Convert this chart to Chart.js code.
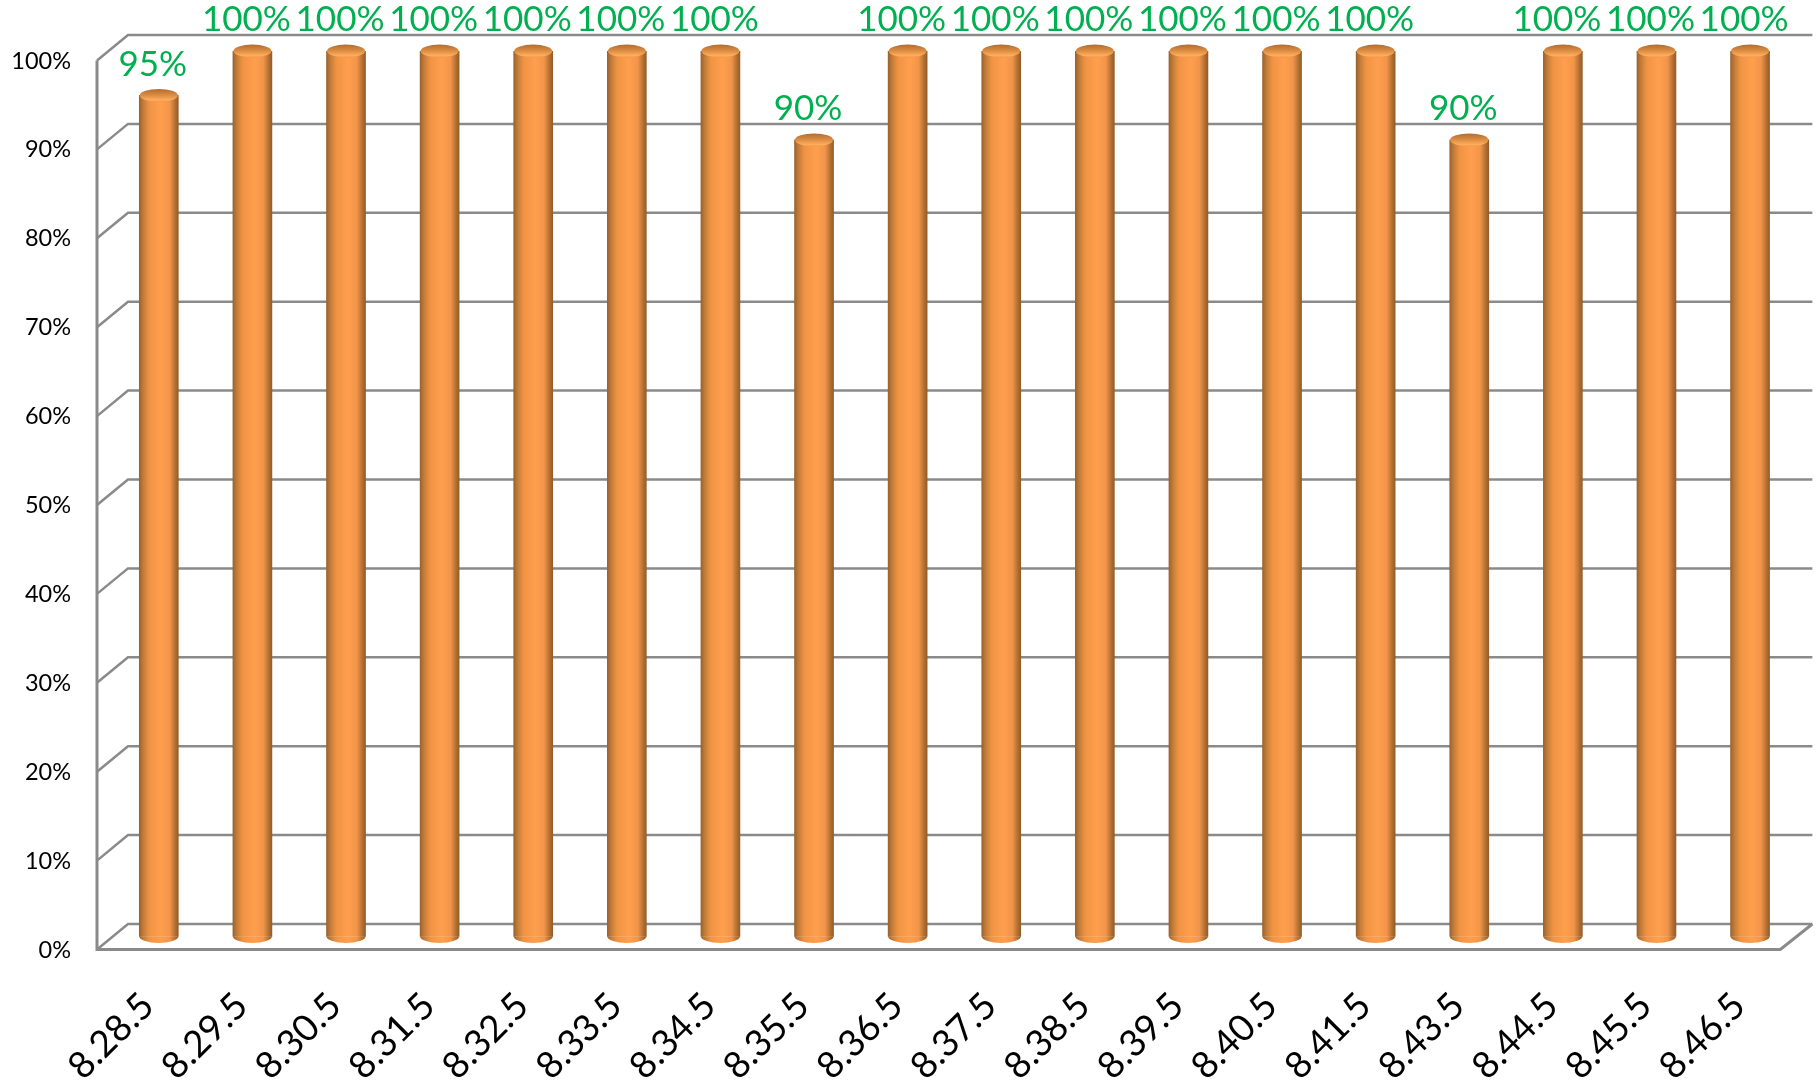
<!DOCTYPE html>
<html>
<head>
<meta charset="utf-8">
<style>
html,body{margin:0;padding:0;background:#fff;}
canvas{display:block;}
</style>
<script src="https://cdn.jsdelivr.net/npm/chart.js@4/dist/chart.umd.min.js"></script>
</head>
<body>
<canvas id="chart" width="1818" height="1080"></canvas>
<script>
const categories = ["8.28.5","8.29.5","8.30.5","8.31.5","8.32.5","8.33.5","8.34.5","8.35.5","8.36.5","8.37.5","8.38.5","8.39.5","8.40.5","8.41.5","8.43.5","8.44.5","8.45.5","8.46.5"];
const rates = [95,100,100,100,100,100,100,90,100,100,100,100,100,100,90,100,100,100];
const yTicks = [0,10,20,30,40,50,60,70,80,90,100];

// offsets of the fake 3d walls from the plane the bars stand on
const frontDy = 9.5, backDy = -16, frontDx = -15, backDx = 16;
const lineColor = "#8a8a8a";

function barFill(ctx, x, w){
  const g = ctx.createLinearGradient(x - w/2, 0, x + w/2, 0);
  g.addColorStop(0, "#9c622d");
  g.addColorStop(0.1, "#c27c39");
  g.addColorStop(0.25, "#ef9343");
  g.addColorStop(0.55, "#ff9f4e");
  g.addColorStop(0.78, "#f2954a");
  g.addColorStop(0.92, "#b27032");
  g.addColorStop(1, "#945c2a");
  return g;
}

const walls = {
  id: "walls",
  beforeDatasetsDraw(chart){
    const ctx = chart.ctx, y = chart.scales.y, a = chart.chartArea;
    const left = a.left + frontDx, back = a.left + backDx, right = a.right + backDx - 0.5;
    ctx.save();
    ctx.strokeStyle = lineColor;
    ctx.lineWidth = 2.5;
    yTicks.forEach(t => {
      const p = y.getPixelForValue(t);
      ctx.beginPath();
      ctx.moveTo(left, p + frontDy);
      ctx.lineTo(back, p + backDy);
      ctx.lineTo(right, p + backDy);
      ctx.stroke();
    });
    const p0 = y.getPixelForValue(0), p100 = y.getPixelForValue(100);
    ctx.beginPath();
    ctx.moveTo(left, p100 + frontDy);
    ctx.lineTo(left, p0 + frontDy);
    ctx.lineTo(right - 32, p0 + frontDy);
    ctx.lineTo(right, p0 + backDy);
    ctx.lineWidth = 3;
    ctx.stroke();
    ctx.restore();
  }
};

const caps = {
  id: "caps",
  afterDatasetsDraw(chart){
    const ctx = chart.ctx, meta = chart.getDatasetMeta(0);
    ctx.save();
    meta.data.forEach((bar, i) => {
      const w = bar.width, rx = w/2, ry = 6.5;
      // rounded foot
      ctx.fillStyle = barFill(ctx, bar.x, w);
      ctx.beginPath();
      ctx.ellipse(bar.x, bar.base, rx, ry, 0, 0, Math.PI);
      ctx.fill();
      // top of the cylinder
      const g = ctx.createLinearGradient(0, bar.y - ry, 0, bar.y + ry);
      g.addColorStop(0, "#b06c33");
      g.addColorStop(0.45, "#d98a3f");
      g.addColorStop(0.85, "#ffac5e");
      g.addColorStop(1, "#f39748");
      ctx.fillStyle = g;
      ctx.beginPath();
      ctx.ellipse(bar.x, bar.y, rx - 0.5, ry, 0, 0, Math.PI*2);
      ctx.fill();
      // value label
      ctx.fillStyle = "#00b050";
      ctx.font = "35px Lato";
      ctx.textAlign = "center";
      ctx.textBaseline = "middle";
      ctx.fillText(rates[i] + "%", bar.x - 6, bar.y - 31);
    });
    ctx.restore();
  }
};

new Chart(document.getElementById("chart"), {
  type: "bar",
  data: {
    labels: categories,
    datasets: [{
      data: rates,
      base: 0.4,
      barThickness: 39,
      borderWidth: 0,
      backgroundColor: c => {
        const sc = c.chart.scales.x;
        if(!sc || c.dataIndex === undefined) return "#f79646";
        const px = sc.getPixelForValue(c.dataIndex);
        if(!Number.isFinite(px)) return "#f79646";
        return barFill(c.chart.ctx, px, 39);
      }
    }]
  },
  options: {
    responsive: false,
    animation: false,
    layout: {padding: {top: 51, right: 19.5, left: 0, bottom: 0}},
    plugins: {legend: {display: false}, tooltip: {enabled: false}},
    scales: {
      x: {
        grid: {display: false},
        border: {display: false},
        afterFit: s => { s.height = 140; },
        ticks: {
          minRotation: 45,
          maxRotation: 45,
          autoSkip: false,
          padding: 36,
          labelOffset: -11,
          color: "#000",
          font: {family: "Lato", size: 37}
        }
      },
      y: {
        min: 0,
        max: 100,
        grid: {display: false},
        border: {display: false},
        afterFit: s => { s.width = 112; },
        afterBuildTicks: s => { s.ticks = yTicks.map(v => ({value: v})); },
        ticks: {
          padding: 33,
          labelOffset: 10,
          color: "#000",
          font: {family: "Lato", size: 23.5},
          callback: v => v + "%"
        }
      }
    }
  },
  plugins: [walls, caps]
});
</script>
</body>
</html>
